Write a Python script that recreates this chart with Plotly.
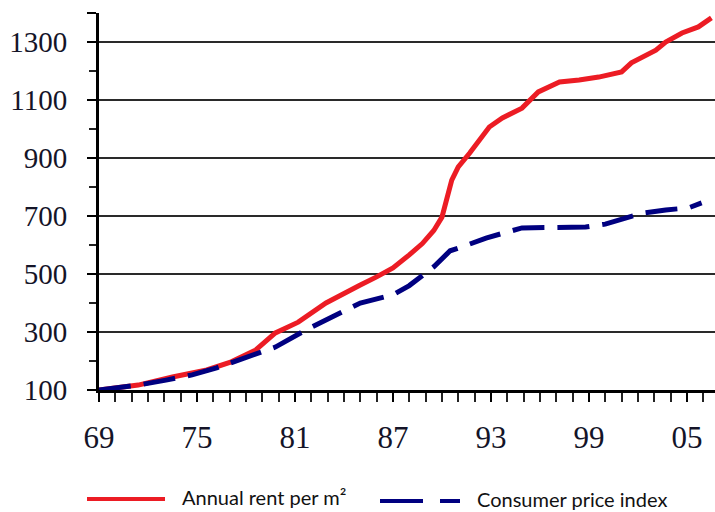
import plotly.graph_objects as go

rent_years = [1969, 1970, 1971.4, 1973.5, 1975.6, 1977.1, 1978.6, 1979.8, 1981.2, 1982.9,
              1984, 1985, 1986, 1987, 1988, 1988.8, 1989.5, 1990, 1990.6, 1991, 1991.7,
              1992.9, 1993.7, 1994.9, 1995.9, 1997.2, 1998.4, 1999.6, 2001, 2001.6,
              2003.1, 2003.7, 2004.7, 2005.7, 2006.5]
rent_values = [100, 108, 117, 145, 169, 197, 238, 297, 334, 400,
               434, 462, 490, 521, 566, 605, 650, 696, 824, 869, 917,
               1007, 1038, 1072, 1128, 1162, 1169, 1179, 1197, 1228,
               1272, 1300, 1331, 1352, 1383]

cpi_years = [1969, 1971.4, 1973.1, 1974.7, 1976.2, 1978.2, 1979.8, 1981.9, 1983.3, 1985,
             1987, 1988, 1989.5, 1990.5, 1991.2, 1992.7, 1994.9, 1996.1, 1998.8, 2000,
             2002.3, 2003.7, 2005.1, 2005.9]
cpi_values = [100, 117, 134, 152, 176, 214, 248, 314, 352, 400,
              428, 460, 525, 580, 593, 624, 659, 659, 662, 672,
              710, 721, 728, 745]

y_tick_vals = [100, 300, 500, 700, 900, 1100, 1300, 1400]
y_tick_text = ["100", "300", "500", "700", "900", "1100", "1300", ""]
x_tick_vals = [1969, 1975, 1981, 1987, 1993, 1999, 2005]
x_tick_text = ["69", "75", "81", "87", "93", "99", "05"]

RED = "#ec1c24"
NAVY = "#000080"

fig = go.Figure()
fig.add_trace(go.Scatter(x=rent_years, y=rent_values, mode="lines",
                         line=dict(color=RED, width=5), name="Annual rent per m²"))
fig.add_trace(go.Scatter(x=cpi_years, y=cpi_values, mode="lines",
                         line=dict(color=NAVY, width=5, dash="32px,13px"),
                         name="Consumer price index"))

yfont = dict(family="Liberation Serif", size=29, color="#141428")
xfont = dict(family="Liberation Serif", size=31, color="#141428")

fig.update_layout(
    width=715, height=512,
    margin=dict(l=99, r=0, t=13, b=122),
    paper_bgcolor="white", plot_bgcolor="white",
    showlegend=False,
    xaxis=dict(range=[1969, 2006.72], tickvals=x_tick_vals, ticktext=x_tick_text,
               showgrid=False, zeroline=False, showline=True, linecolor="black", linewidth=3,
               ticks="outside", ticklen=9, tickwidth=2, tickcolor="black",
               tickfont=xfont, ticklabelstandoff=9,
               minor=dict(dtick=1, tick0=1969, ticks="outside", ticklen=9, tickwidth=2,
                          tickcolor="#222", showgrid=False)),
    yaxis=dict(range=[100, 1400], tickvals=y_tick_vals, ticktext=y_tick_text,
               showgrid=True, gridcolor="#2a2a2a", gridwidth=2, zeroline=False,
               showline=True, linecolor="black", linewidth=3,
               ticks="outside", ticklen=9, tickwidth=2, tickcolor="black",
               tickfont=yfont, ticklabelstandoff=14,
               minor=dict(tickvals=[200, 400, 600, 800, 1000, 1200], ticks="outside",
                          ticklen=7, tickwidth=2, tickcolor="#222", showgrid=False)),
)

# legend drawn manually
def py(px):
    return -(px - 389) / 377

def pxx(px):
    return (px - 99) / 616

fig.add_shape(type="line", xref="paper", yref="paper",
              x0=pxx(87), x1=pxx(165), y0=py(498), y1=py(498),
              line=dict(color=RED, width=4))
fig.add_shape(type="line", xref="paper", yref="paper",
              x0=pxx(380), x1=pxx(423), y0=py(500), y1=py(500),
              line=dict(color=NAVY, width=4))
fig.add_shape(type="line", xref="paper", yref="paper",
              x0=pxx(440), x1=pxx(460), y0=py(500), y1=py(500),
              line=dict(color=NAVY, width=4))
sans = dict(family="Lato", size=20, color="#111")
fig.add_annotation(xref="paper", yref="paper", x=pxx(180), y=py(496),
                   text="Annual rent per m²", showarrow=False, xanchor="left", yanchor="middle",
                   font=sans)
fig.add_annotation(xref="paper", yref="paper", x=pxx(475), y=py(498),
                   text="Consumer price index", showarrow=False, xanchor="left", yanchor="middle",
                   font=sans)

fig.write_html("out.html", config={"displayModeBar": False},
               post_script="document.body.style.margin='0px';")
